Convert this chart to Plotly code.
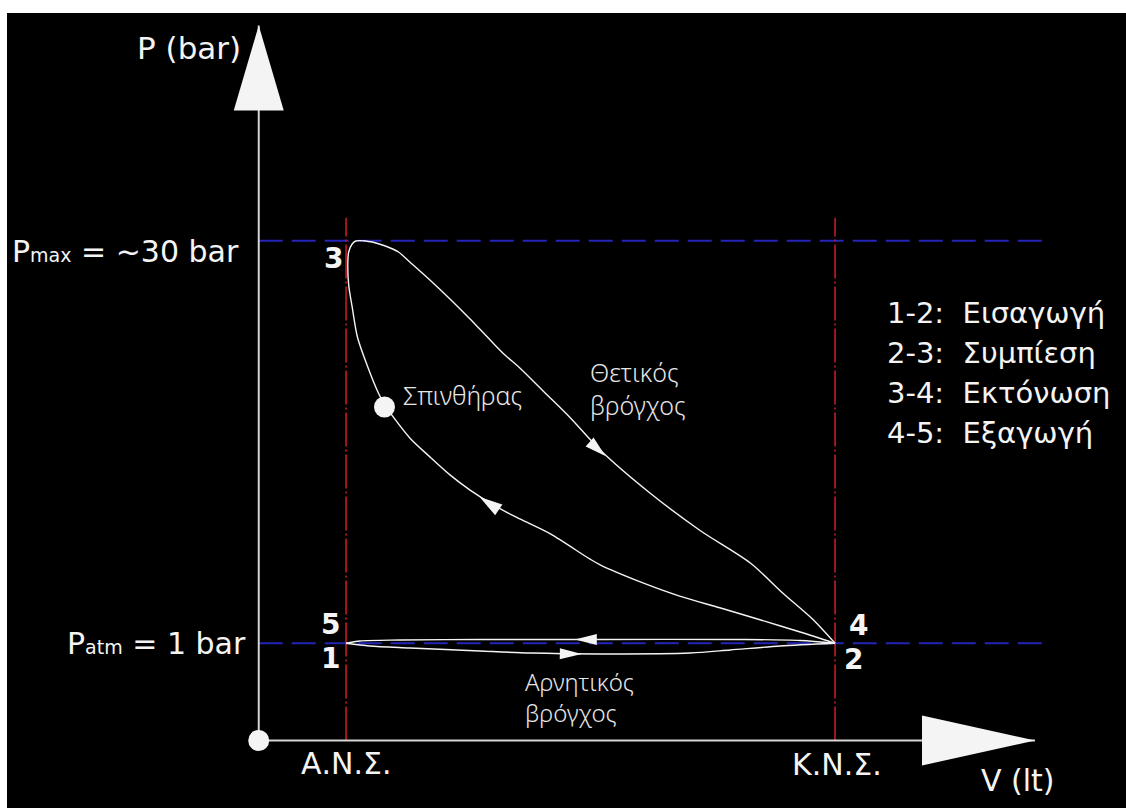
import numpy as np
import plotly.graph_objects as go

# Schematic Otto-cycle indicator diagram (p-V).
# V in units of the clearance volume (TDC = 1), p in bar on a logarithmic scale.
V_TDC = 1.0          # Α.Ν.Σ.
V_BDC = 6.6          # Κ.Ν.Σ.
P_ATM = 1.0
P_MAX = 30.0
P_ORIGIN = 0.44      # level at which the V axis is drawn
P_SPARK = 7.36
V_SPARK = 1.44

# 1 -> 2 intake
intake_v = [1.00, 1.27, 1.73, 2.53, 3.11, 3.91, 4.94, 5.40, 5.97, 6.60]
intake_p = [1.000, 0.977, 0.961, 0.937, 0.921, 0.914, 0.921, 0.945, 0.977, 1.000]

# 2 -> 3 compression
compression_v = [6.60, 6.20, 5.74, 5.28, 4.82, 4.37, 3.91, 3.79, 3.34, 2.99, 2.73, 2.42,
                 2.19, 1.96, 1.73, 1.54, 1.45, 1.37, 1.24, 1.13, 1.07, 1.03, 1.02, 1.03,
                 1.07, 1.11, 1.19]
compression_p = [1.00, 1.10, 1.22, 1.35, 1.49, 1.68, 1.94, 2.04, 2.52, 2.86, 3.16, 3.65,
                 4.15, 4.83, 5.67, 6.77, 7.43, 8.29, 10.50, 13.30, 17.14, 20.64, 24.85, 27.27,
                 29.18, 29.93, 30.00]

# 3 -> 4 expansion
expansion_v = [1.19, 1.30, 1.45, 1.60, 1.73, 1.96, 2.19, 2.42, 2.65, 2.82, 2.99, 3.28,
               3.57, 3.91, 4.48, 5.05, 5.63, 6.00, 6.35, 6.60]
expansion_p = [30.00, 29.68, 28.69, 27.27, 25.06, 21.53, 18.34, 15.48, 12.97, 11.42, 10.24, 8.29,
               6.71, 5.12, 3.56, 2.60, 1.97, 1.53, 1.22, 1.00]

# 4 -> 5 exhaust
exhaust_v = [6.60, 6.20, 5.51, 3.91, 2.53, 1.62, 1.16, 1.00]
exhaust_p = [1.000, 1.024, 1.033, 1.033, 1.033, 1.028, 1.020, 1.000]

# direction markers on the cycle: (tail, tip) pairs lying on the curves
flow_arrows = [
    ((3.71, 5.76), (3.97, 4.87)),    # expansion
    ((2.80, 3.01), (2.53, 3.44)),    # compression
    ((3.91, 1.033), (3.62, 1.033)),  # exhaust
    ((3.36, 0.917), (3.70, 0.914)),  # intake
]

phase_lines = ["1-2:&nbsp; Εισαγωγή", "2-3:&nbsp; Συμπίεση", "3-4:&nbsp; Εκτόνωση", "4-5:&nbsp; Εξαγωγή"]

# ---------------------------------------------------------------- layout geometry
W, H = 1126, 808
M_L, M_R, M_T, M_B = 7, 0, 13, 0
X_RANGE = [-2.883, 9.932]
Y_LOG = [-0.6043, 2.3126]
PLOT_W = W - M_L - M_R
PLOT_H = H - M_T - M_B
PX_PER_V = PLOT_W / (X_RANGE[1] - X_RANGE[0])
PX_PER_DEC = PLOT_H / (Y_LOG[1] - Y_LOG[0])

V_AXIS_TIP = 8.89
P_AXIS_TIP = 185.0
V_GUIDE_END = 9.04
P_GUIDE_TOP = 36.4


def to_screen(v, p):
    return (v - X_RANGE[0]) * PX_PER_V, (np.log10(p) - Y_LOG[0]) * PX_PER_DEC


def to_data(x, y):
    return X_RANGE[0] + x / PX_PER_V, 10 ** (Y_LOG[0] + y / PX_PER_DEC)


def arrowhead(tail, tip, length, half_w):
    x0, y0 = to_screen(*tail)
    x1, y1 = to_screen(*tip)
    d = np.array([x1 - x0, y1 - y0], dtype=float)
    d /= np.hypot(*d)
    n = np.array([-d[1], d[0]])
    t = np.array([x1, y1])
    b = t - d * length
    pts = [t, b + n * half_w, b - n * half_w, t]
    xs, ys = zip(*[to_data(*pt) for pt in pts])
    return list(xs), list(ys)


WHITE = "#f4f4f4"
AXIS = "#d6d6d6"
BLUE = "#2424b8"
RED = "#c41a24"

fig = go.Figure()


def line(x, y, color, width, dash="solid", shape="linear"):
    fig.add_trace(go.Scatter(x=x, y=y, mode="lines", hoverinfo="skip", showlegend=False,
                             line=dict(color=color, width=width, dash=dash, shape=shape,
                                       smoothing=0.8 if shape == "spline" else None)))


def polygon(x, y, color=WHITE):
    fig.add_trace(go.Scatter(x=x, y=y, mode="lines", fill="toself", fillcolor=color,
                             line=dict(width=0, color=color), hoverinfo="skip", showlegend=False))


# reference levels
for p in (P_MAX, P_ATM):
    line([0, V_GUIDE_END], [p, p], BLUE, 2, "24px,9px")
for v in (V_TDC, V_BDC):
    line([v, v], [P_ORIGIN, P_GUIDE_TOP], RED, 1.6, "34px,3px,2px,3px")

# axes
line([0, V_AXIS_TIP], [P_ORIGIN, P_ORIGIN], AXIS, 2)
line([0, 0], [P_ORIGIN, P_AXIS_TIP], AXIS, 2)
polygon(*arrowhead((0, P_ORIGIN), (V_AXIS_TIP, P_ORIGIN), 113, 25))
polygon(*arrowhead((0, P_ORIGIN), (0, P_AXIS_TIP), 85, 25))

# cycle
for vs, ps in ((intake_v, intake_p), (compression_v, compression_p),
               (expansion_v, expansion_p), (exhaust_v, exhaust_p)):
    line(vs, ps, WHITE, 1.4, shape="spline")

for (tail, tip), (ln, hw) in zip(flow_arrows, [(21, 6), (23, 6.5), (22, 5.5), (22, 5.5)]):
    polygon(*arrowhead(tail, tip, ln, hw))

# origin and ignition point
fig.add_trace(go.Scatter(x=[0, V_SPARK], y=[P_ORIGIN, P_SPARK], mode="markers",
                         marker=dict(size=21, color=WHITE, line=dict(width=0)),
                         hoverinfo="skip", showlegend=False))

# ---------------------------------------------------------------- labels
MAIN = dict(family="DejaVu Sans", color=WHITE)
THIN = dict(family="Noto Sans", color="#e6e6e6", size=25, weight=300)
DIGIT = dict(family="DejaVu Sans", color=WHITE, size=28, weight="bold")

ann = []


def label(text, x, y, font, xanchor="center", xshift=0, yshift=0, xref="x", yref="y"):
    ann.append(dict(text=text, x=x, y=np.log10(y) if yref == "y" else y, xref=xref, yref=yref,
                    xanchor=xanchor, yanchor="middle", xshift=xshift, yshift=yshift,
                    showarrow=False, font=font, align="left"))


label("P (bar)", 0, P_AXIS_TIP, dict(MAIN, size=31), "right", -16, -23)
label("P<span style='font-size:19px'>max</span> = ~30 bar", 0, P_MAX, dict(MAIN, size=30), "right", -18, -11)
label("P<span style='font-size:19px'>atm</span> = 1 bar", 0, P_ATM, dict(MAIN, size=30), "right", -11, 0)

label("3", V_TDC, P_MAX, DIGIT, "right", -1, -18)
label("5", V_TDC, P_ATM, DIGIT, "right", -4, 19)
label("1", V_TDC, P_ATM, DIGIT, "right", -4, -15)
label("4", V_BDC, P_ATM, DIGIT, "left", 12, 18)
label("2", V_BDC, P_ATM, DIGIT, "left", 7, -16)

label("Α.Ν.Σ.", V_TDC, P_ORIGIN, dict(MAIN, size=30), "center", 0, -23)
label("Κ.Ν.Σ.", V_BDC, P_ORIGIN, dict(MAIN, size=30), "center", 2, -24)
label("V (lt)", V_AXIS_TIP, P_ORIGIN, dict(MAIN, size=30), "center", -17, -40)

label("Σπινθήρας", V_SPARK, P_SPARK, THIN, "left", 17, 12)

for i, t in enumerate(phase_lines):
    label(t, 0.7846, 0.6226 - i * 0.0503, dict(MAIN, size=29), "left", xref="paper", yref="paper")

label("Θετικός<br>βρόγχος", 0.5192, 0.5277, dict(THIN, size=25), "left", xref="paper", yref="paper")
label("Αρνητικός<br>βρόγχος", 0.4611, 0.1397, dict(THIN, size=24), "left", xref="paper", yref="paper")

fig.update_layout(
    width=W, height=H,
    margin=dict(l=M_L, r=M_R, t=M_T, b=M_B, pad=0),
    paper_bgcolor="white", plot_bgcolor="black",
    xaxis=dict(range=X_RANGE, visible=False, fixedrange=True),
    yaxis=dict(type="log", range=Y_LOG, visible=False, fixedrange=True),
    annotations=ann,
    showlegend=False,
)

fig.write_html("out.html")
